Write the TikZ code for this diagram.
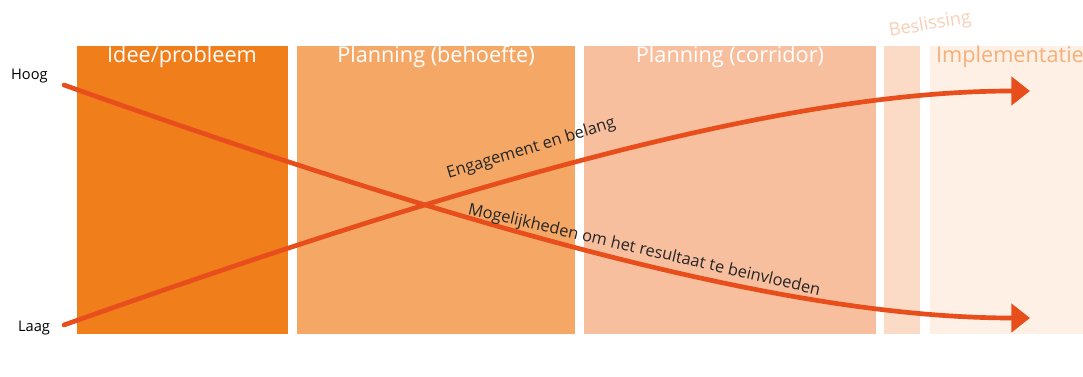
\documentclass[tikz,border=0pt]{standalone}
\usepackage{fontspec}
\setmainfont{Open Sans}
\usetikzlibrary{arrows.meta, positioning}

\definecolor{fase1}{HTML}{F07E1B}
\definecolor{fase2}{HTML}{F5A866}
\definecolor{fase3}{HTML}{F8BF9E}
\definecolor{fase4}{HTML}{FBDAC6}
\definecolor{fase5}{HTML}{FEF0E5}
\definecolor{pijl}{HTML}{E84E1B}
\definecolor{impl}{HTML}{F4B07C}
\definecolor{besl}{HTML}{F8CFB6}

\tikzset{
  fase/.style={font=\fontsize{18.5}{18.5}\selectfont, text=white},
  as/.style={font=\fontsize{12.5}{12.5}\selectfont},
  curve/.style={draw=pijl, line width=4pt, line cap=round, -{Triangle[length=16pt, width=24pt]}},
  curvelabel/.style={font=\fontsize{14}{14}\selectfont, text=black!85, inner sep=1pt}
}

\begin{document}
\begin{tikzpicture}[x=0.03cm, y=-0.03cm]

\useasboundingbox (0,0) rectangle (1083,377);

\fill[fase1] (77,46) rectangle (288,334);
\fill[fase2] (297,46) rectangle (575,334);
\fill[fase3] (584,46) rectangle (876,334);
\fill[fase4] (884,46) rectangle (920,334);
\fill[fase5] (930,46) rectangle (1083,334);

\node[fase] (idee) at (182,57) {Idee/probleem};
\node[fase] (behoefte) at (436,57) {Planning (behoefte)};
\node[fase] (corridor) at (730,57) {Planning (corridor)};
\node[fase, text=impl, anchor=west] (impl) at (932,57) {Implementatie};
\node[fase, text=besl, rotate=10, font=\fontsize{15.5}{15.5}\selectfont] (besl) at (930,25) {Beslissing};

\node[as, anchor=west] (hoog) at (7,76) {Hoog};
\node[as] (laag) at (34,328) {Laag};

\coordinate (h) at (64,85);
\coordinate (l) at (64,325);
\coordinate (eh) at (1030,91);
\coordinate (el) at (1030,318);

\draw[curve] (h) .. controls (500,240) and (800,318) .. (el);
\draw[curve] (l) .. controls (500,170) and (800,91) .. (eh);

\node[curvelabel, rotate=17, anchor=south] (eng) at (534,158) {Engagement en belang};
\node[curvelabel, rotate=-13, anchor=south] (mog) at (642,260) {Mogelijkheden om het resultaat te beinvloeden};

\end{tikzpicture}
\end{document}
